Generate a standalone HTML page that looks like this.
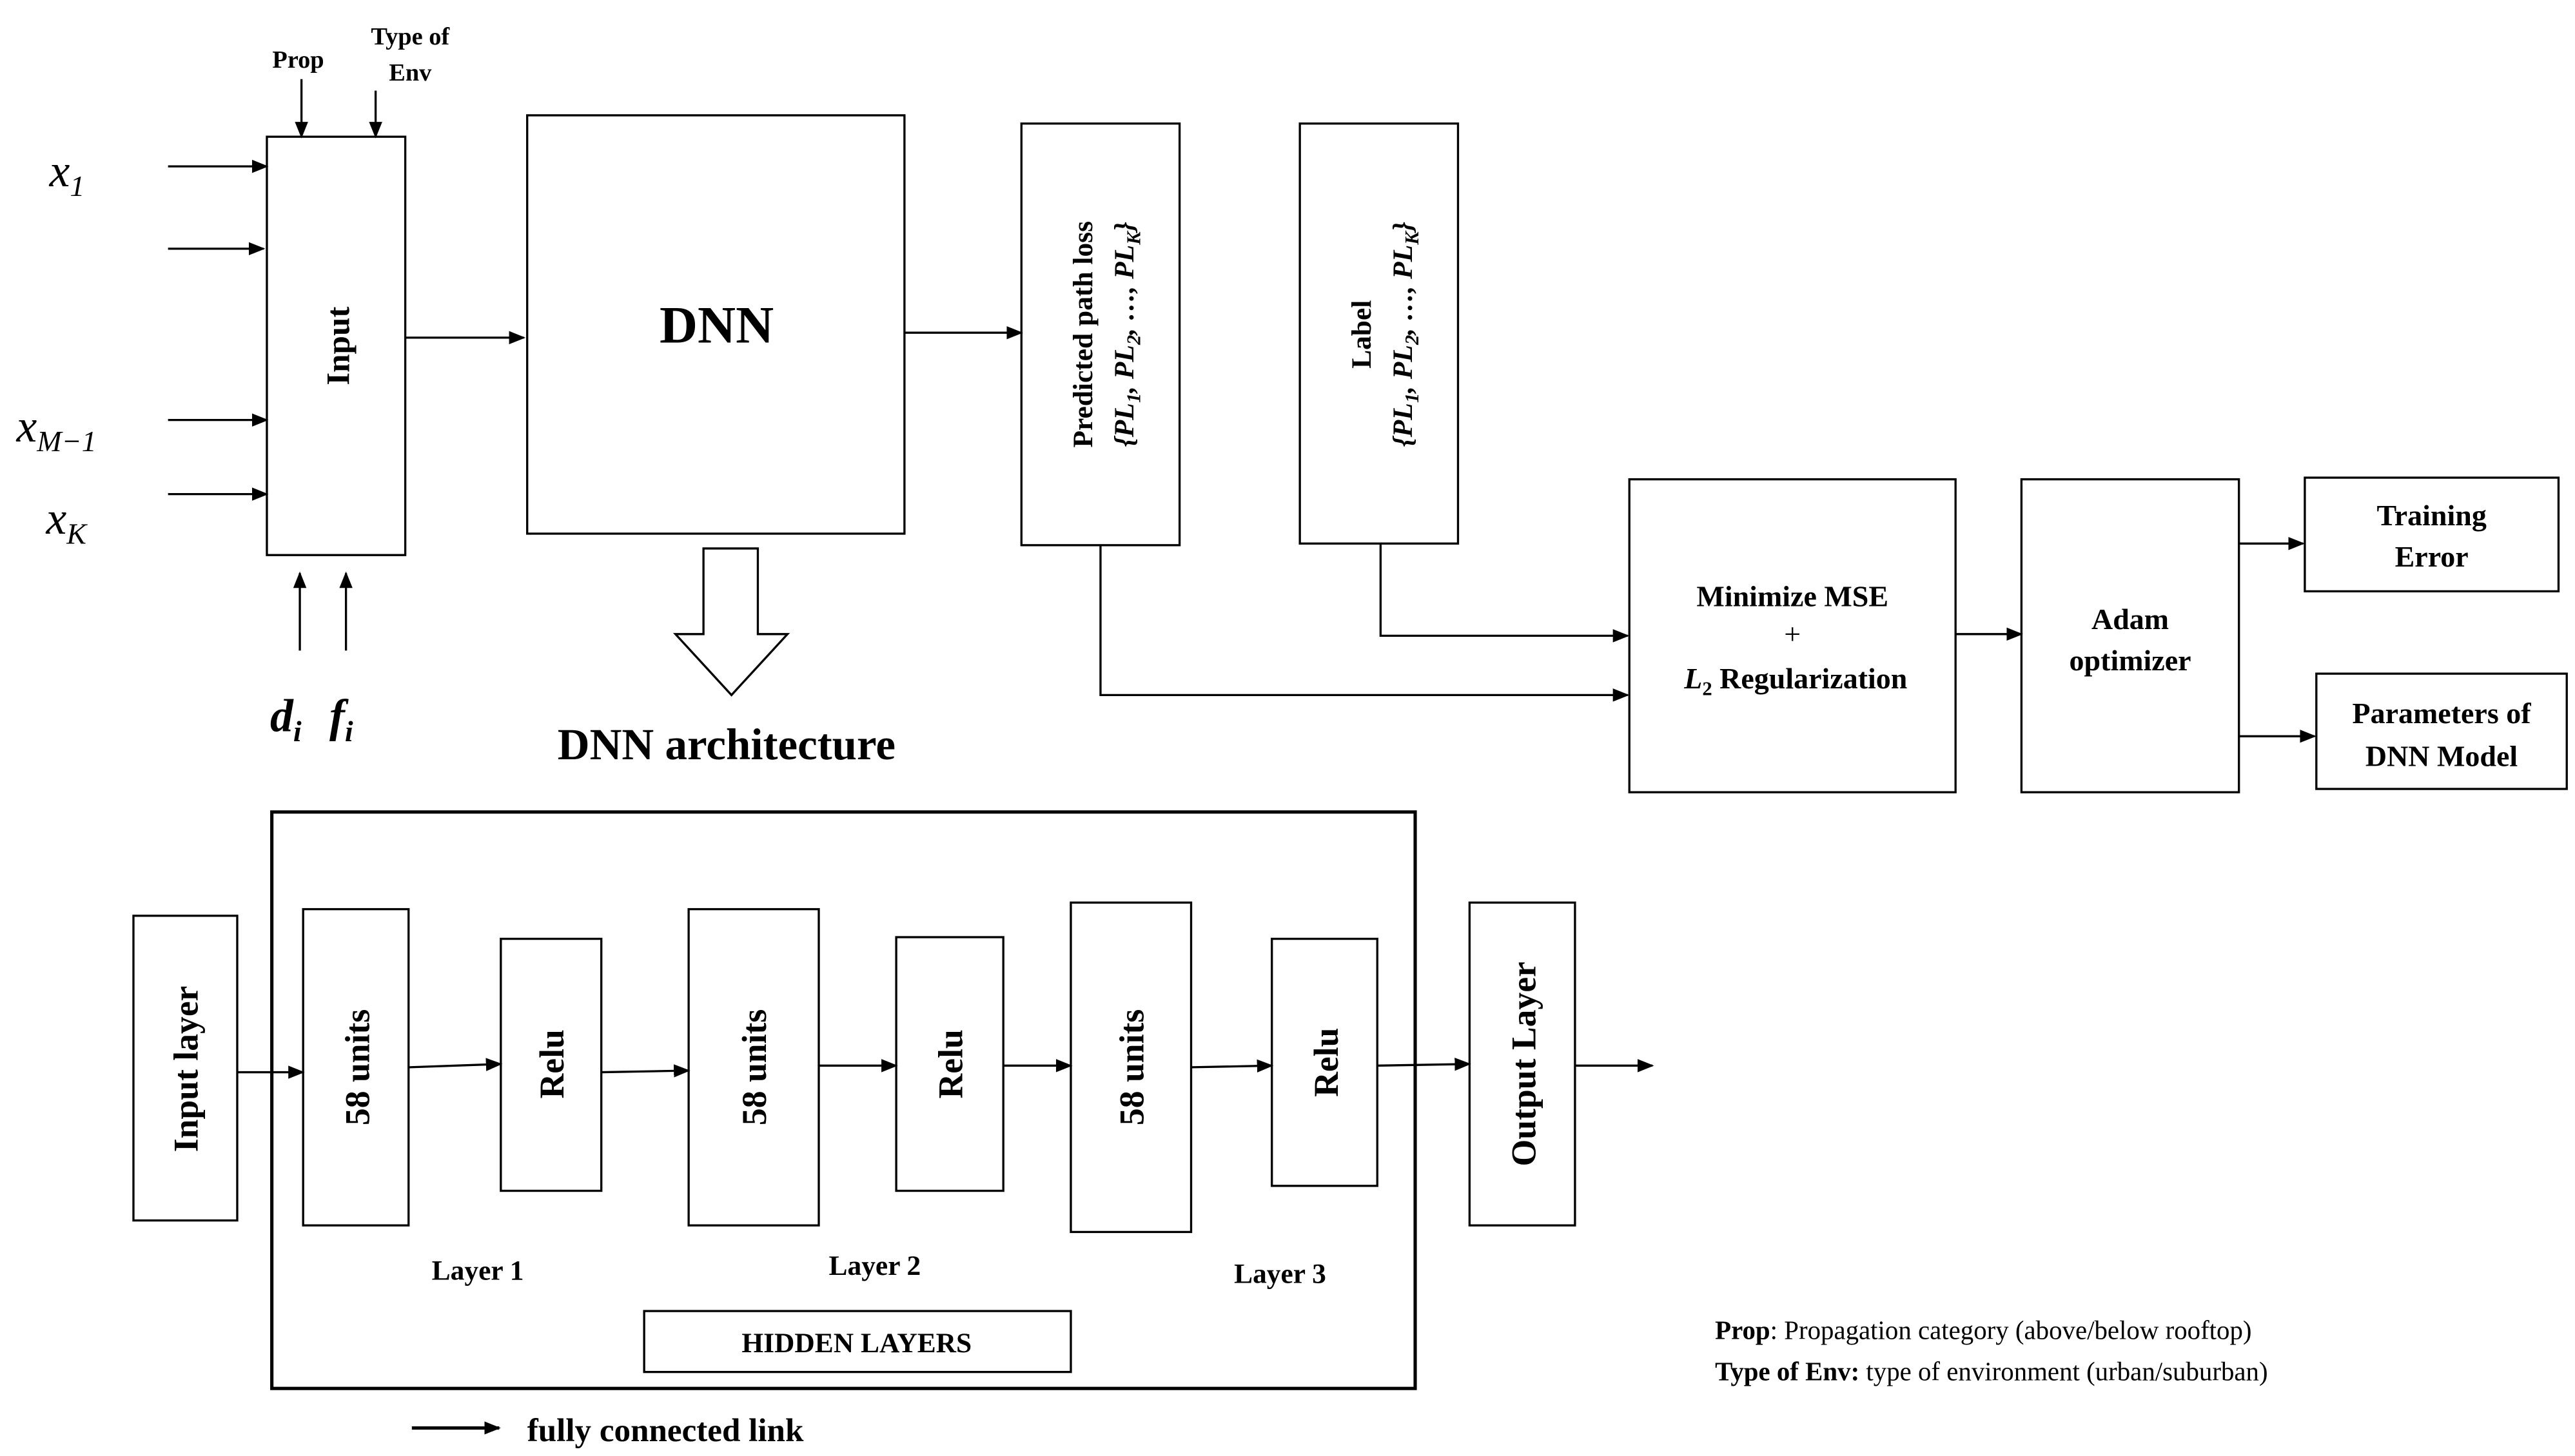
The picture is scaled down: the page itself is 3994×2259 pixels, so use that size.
<!DOCTYPE html>
<html><head><meta charset="utf-8"><style>
html,body{margin:0;padding:0;background:#fff;}
svg{display:block;}
text{font-family:"Liberation Serif",serif;fill:#000;}
.b{font-weight:bold;}
</style></head><body>
<svg width="3994" height="2259" viewBox="0 0 1563 884" xmlns="http://www.w3.org/2000/svg">
<defs>
<marker id="a" markerWidth="10" markerHeight="10" refX="9" refY="5" orient="auto" markerUnits="userSpaceOnUse">
<path d="M0,1 L10,5 L0,9 z" fill="#000"/></marker>
</defs>
<g fill="none" stroke="#000" stroke-width="1.3">
<line x1="102" y1="101" x2="162" y2="101" marker-end="url(#a)"/>
<line x1="102" y1="151" x2="160" y2="151" marker-end="url(#a)"/>
<line x1="102" y1="255" x2="162" y2="255" marker-end="url(#a)"/>
<line x1="102" y1="300" x2="162" y2="300" marker-end="url(#a)"/>
<rect x="162" y="83" width="84" height="254"/>
<line x1="183" y1="48" x2="183" y2="83" marker-end="url(#a)"/>
<line x1="228" y1="55" x2="228" y2="83" marker-end="url(#a)"/>
<line x1="182" y1="395" x2="182" y2="348" marker-end="url(#a)"/>
<line x1="210" y1="395" x2="210" y2="348" marker-end="url(#a)"/>
<line x1="246" y1="205" x2="318" y2="205" marker-end="url(#a)"/>
<rect x="320" y="70" width="229" height="254"/>
<path d="M427,333 H460 V385 H478 L444,422 L410,385 H427 Z"/>
<line x1="549" y1="202" x2="620" y2="202" marker-end="url(#a)"/>
<rect x="620" y="75" width="96" height="256"/>
<rect x="789" y="75" width="96" height="255"/>
<polyline points="668,331 668,422 988,422" marker-end="url(#a)"/>
<polyline points="838,330 838,386 988,386" marker-end="url(#a)"/>
<rect x="989" y="291" width="198" height="190"/>
<line x1="1187" y1="385" x2="1227" y2="385" marker-end="url(#a)"/>
<rect x="1227" y="291" width="132" height="190"/>
<line x1="1359" y1="330" x2="1398" y2="330" marker-end="url(#a)"/>
<line x1="1359" y1="447" x2="1405" y2="447" marker-end="url(#a)"/>
<rect x="1399" y="290" width="154" height="69"/>
<rect x="1406" y="409" width="152" height="70"/>
<rect x="165" y="493" width="694" height="350" stroke-width="2"/>
<rect x="81" y="556" width="63" height="185"/>
<rect x="184" y="552" width="64" height="192"/>
<rect x="304" y="570" width="61" height="153"/>
<rect x="418" y="552" width="79" height="192"/>
<rect x="544" y="569" width="65" height="154"/>
<rect x="650" y="548" width="73" height="200"/>
<rect x="772" y="570" width="64" height="150"/>
<rect x="892" y="548" width="64" height="196"/>
<rect x="391" y="796" width="259" height="37"/>
<line x1="144" y1="651" x2="184" y2="651" marker-end="url(#a)"/>
<line x1="248" y1="648" x2="304" y2="646" marker-end="url(#a)"/>
<line x1="365" y1="651" x2="418" y2="650" marker-end="url(#a)"/>
<line x1="497" y1="647" x2="544" y2="647" marker-end="url(#a)"/>
<line x1="609" y1="647" x2="650" y2="647" marker-end="url(#a)"/>
<line x1="723" y1="648" x2="772" y2="647" marker-end="url(#a)"/>
<line x1="836" y1="647" x2="892" y2="646" marker-end="url(#a)"/>
<line x1="956" y1="647" x2="1003" y2="647" marker-end="url(#a)"/>
<line x1="250" y1="867" x2="303" y2="867" stroke-width="2" marker-end="url(#a)"/>
</g>
<g font-style="italic" font-size="28">
<text x="30" y="113">x<tspan font-size="18" dy="6">1</tspan></text>
<text x="10" y="268">x<tspan font-size="18" dy="6">M−1</tspan></text>
<text x="28" y="324">x<tspan font-size="18" dy="6">K</tspan></text>
<text x="164" y="444" class="b">d<tspan font-size="18" dy="6">i</tspan></text>
<text x="200" y="444" class="b">f<tspan font-size="18" dy="6">i</tspan></text>
</g>
<g class="b" font-size="15" text-anchor="middle">
<text x="181" y="41" class="b">Prop</text>
<text x="249" y="27" class="b">Type of</text>
<text x="249" y="49" class="b">Env</text>
</g>
<text x="212" y="210" font-size="20" class="b" text-anchor="middle" transform="rotate(-90 212 210)">Input</text>
<text x="435" y="208" font-size="32" class="b" text-anchor="middle">DNN</text>
<text x="441" y="461" font-size="27" class="b" text-anchor="middle">DNN architecture</text>
<text x="663" y="203" font-size="17" class="b" text-anchor="middle" transform="rotate(-90 663 203)">Predicted path loss</text>
<text x="688" y="203" font-size="17" class="b" font-style="italic" text-anchor="middle" transform="rotate(-90 688 203)">{PL<tspan font-size="12" dy="4">1</tspan><tspan dy="-4">, PL</tspan><tspan font-size="12" dy="4">2</tspan><tspan dy="-4">, …, PL</tspan><tspan font-size="12" dy="4">K</tspan><tspan dy="-4">}</tspan></text>
<text x="832" y="203" font-size="17" class="b" text-anchor="middle" transform="rotate(-90 832 203)">Label</text>
<text x="857" y="203" font-size="17" class="b" font-style="italic" text-anchor="middle" transform="rotate(-90 857 203)">{PL<tspan font-size="12" dy="4">1</tspan><tspan dy="-4">, PL</tspan><tspan font-size="12" dy="4">2</tspan><tspan dy="-4">, …, PL</tspan><tspan font-size="12" dy="4">K</tspan><tspan dy="-4">}</tspan></text>
<g font-size="18" class="b" text-anchor="middle">
<text x="1088" y="368" class="b">Minimize MSE</text>
<text x="1088" y="391" font-weight="normal">+</text>
<text x="1090" y="418" class="b"><tspan font-style="italic">L</tspan><tspan font-size="12" dy="4">2</tspan><tspan dy="-4"> Regularization</tspan></text>
<text x="1293" y="382" class="b">Adam</text>
<text x="1293" y="407" class="b">optimizer</text>
<text x="1476" y="319" class="b">Training</text>
<text x="1476" y="344" class="b">Error</text>
<text x="1482" y="439" class="b">Parameters of</text>
<text x="1482" y="465" class="b">DNN Model</text>
</g>
<g font-size="21" class="b" text-anchor="middle">
<text transform="translate(120 649) rotate(-90)" class="b">Input layer</text>
<text transform="translate(224 648) rotate(-90)" class="b">58 units</text>
<text transform="translate(342 646) rotate(-90)" class="b">Relu</text>
<text transform="translate(465 648) rotate(-90)" class="b">58 units</text>
<text transform="translate(584 646) rotate(-90)" class="b">Relu</text>
<text transform="translate(694 648) rotate(-90)" class="b">58 units</text>
<text transform="translate(812 645) rotate(-90)" class="b">Relu</text>
<text transform="translate(932 646) rotate(-90)" class="b">Output Layer</text>
</g>
<g font-size="17" class="b" text-anchor="middle">
<text x="290" y="777" class="b">Layer 1</text>
<text x="531" y="774" class="b">Layer 2</text>
<text x="777" y="779" class="b">Layer 3</text>
<text x="520" y="821" class="b">HIDDEN LAYERS</text>
</g>
<text x="320" y="875" font-size="20" class="b">fully connected link</text>
<text x="1041" y="813" font-size="16"><tspan font-weight="bold">Prop</tspan>: Propagation category (above/below rooftop)</text>
<text x="1041" y="838" font-size="16"><tspan font-weight="bold">Type of Env:</tspan> type of environment (urban/suburban)</text>
</svg>
</body></html>
